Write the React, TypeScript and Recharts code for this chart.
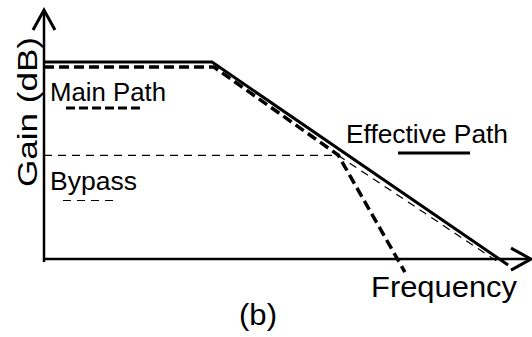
import React from 'react';
import { LineChart, Line, XAxis, YAxis, ReferenceLine } from 'recharts';

// frequency (0..100) / gain (dB, arbitrary units) break points
const effectiveF = [0, 34.5, 95.3];
const effectiveG = [79.1, 79.1, -2.4];
const mainF = [0, 34.9, 60.4, 74.1];
const mainG = [77.1, 77.1, 41.8, -5.2];
const bypassF = [0, 60.4, 93.6];
const bypassG = [41.6, 41.6, -1.6];

const toPoints = (fs: number[], gs: number[]) => fs.map((f, i) => ({ f, g: gs[i] }));

const effectiveData = toPoints(effectiveF, effectiveG);
const mainData = toPoints(mainF, mainG);
const bypassData = toPoints(bypassF, bypassG);

const FONT = '"Liberation Sans", Arial, sans-serif';

// axis line with an open arrow head at the far end
const ArrowLine = (props: any) => {
  const { x1, y1, x2, y2 } = props;
  const ang = Math.atan2(y2 - y1, x2 - x1);
  const len = 20;
  const half = 11;
  const bx = x2 - len * Math.cos(ang);
  const by = y2 - len * Math.sin(ang);
  const px = -Math.sin(ang) * half;
  const py = Math.cos(ang) * half;
  return (
    <g>
      <line x1={x1} y1={y1} x2={x2} y2={y2} stroke="#000" strokeWidth={2.5} />
      <polyline
        points={`${bx + px},${by + py} ${x2},${y2} ${bx - px},${by - py}`}
        fill="none"
        stroke="#000"
        strokeWidth={3}
      />
    </g>
  );
};

export default function App() {
  return (
    <div style={{ position: 'absolute', left: 0, top: 0, width: 532, height: 337, background: '#fff' }}>
      <LineChart width={532} height={337} margin={{ top: 10, right: 1, bottom: 53, left: 44 }}>
        <XAxis type="number" dataKey="f" domain={[0, 100]} hide />
        <YAxis type="number" dataKey="g" domain={[-10, 100]} hide />
        <ReferenceLine segment={[{ x: 0, y: 0 }, { x: 100, y: 0 }]} shape={ArrowLine} />
        <ReferenceLine segment={[{ x: 0, y: -1.2 }, { x: 0, y: 100 }]} shape={ArrowLine} />
        <Line
          data={bypassData}
          dataKey="g"
          type="linear"
          stroke="#000"
          strokeWidth={1.2}
          strokeDasharray="8 6"
          dot={false}
          isAnimationActive={false}
        />
        <Line
          data={mainData}
          dataKey="g"
          type="linear"
          stroke="#000"
          strokeWidth={3.5}
          strokeDasharray="10 5"
          dot={false}
          isAnimationActive={false}
        />
        <Line
          data={effectiveData}
          dataKey="g"
          type="linear"
          stroke="#000"
          strokeWidth={3}
          dot={false}
          isAnimationActive={false}
        />
      </LineChart>
      <svg
        width={532}
        height={337}
        style={{ position: 'absolute', left: 0, top: 0, pointerEvents: 'none' }}
        fontFamily={FONT}
        fill="#000"
      >
        <text x={50} y={101} fontSize={25} textLength={116} lengthAdjust="spacingAndGlyphs">Main Path</text>
        <line x1={66} y1={108} x2={142} y2={108} stroke="#000" strokeWidth={3} strokeDasharray="9 4" />
        <text x={346} y={143} fontSize={25} textLength={162} lengthAdjust="spacingAndGlyphs">Effective Path</text>
        <line x1={398} y1={153} x2={470} y2={153} stroke="#000" strokeWidth={3} />
        <text x={50} y={190} fontSize={25} textLength={87} lengthAdjust="spacingAndGlyphs">Bypass</text>
        <line x1={63} y1={200.5} x2={118} y2={200.5} stroke="#000" strokeWidth={1.2} strokeDasharray="8 6" />
        <text
          x={0}
          y={0}
          fontSize={28}
          textLength={150}
          lengthAdjust="spacingAndGlyphs"
          transform="translate(37,187) rotate(-90)"
        >
          Gain (dB)
        </text>
        <text x={371} y={297} fontSize={29} textLength={146} lengthAdjust="spacingAndGlyphs">Frequency</text>
        <text x={239} y={325} fontSize={29} textLength={38} lengthAdjust="spacingAndGlyphs">(b)</text>
      </svg>
    </div>
  );
}
